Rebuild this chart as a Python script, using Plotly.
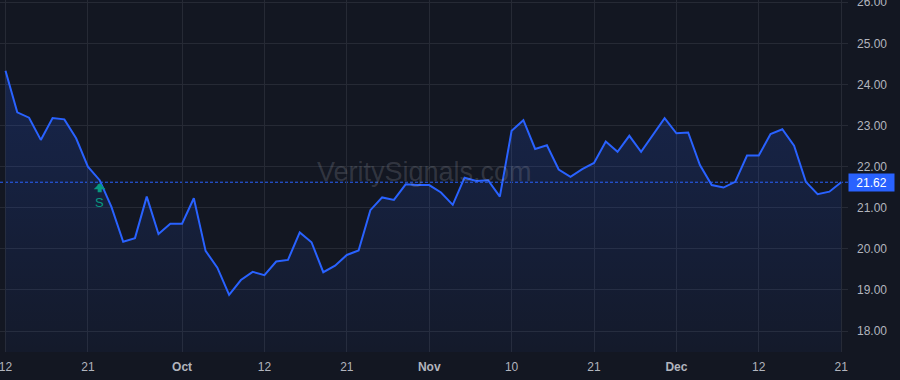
import pandas as pd
import plotly.graph_objects as go

# Trading days Sep 12 - Dec 21, 2022 (Thanksgiving closed)
dates = [d.strftime("%Y-%m-%d") for d in pd.bdate_range("2022-09-12", "2022-12-21")
         if d.strftime("%Y-%m-%d") != "2022-11-24"]

prices = [24.33, 23.32, 23.19, 22.65, 23.18, 23.15, 22.69, 22.00, 21.67, 21.02,
          20.17, 20.26, 21.27, 20.36, 20.61, 20.61, 21.23, 19.95, 19.54, 18.88,
          19.24, 19.44, 19.36, 19.69, 19.73, 20.40, 20.16, 19.43, 19.59, 19.85,
          19.96, 20.94, 21.25, 21.19, 21.57, 21.55, 21.55, 21.37, 21.07, 21.73,
          21.65, 21.67, 21.27, 22.87, 23.13, 22.43, 22.52, 21.93, 21.75, 21.94,
          22.09, 22.61, 22.36, 22.75, 22.36, 22.77, 23.18, 22.81, 22.83, 22.04,
          21.55, 21.49, 21.63, 22.27, 22.27, 22.79, 22.91, 22.51, 21.63, 21.33,
          21.39, 21.62]

tick_dates = ["2022-09-12", "2022-09-21", "2022-10-03", "2022-10-12", "2022-10-21",
              "2022-11-01", "2022-11-10", "2022-11-21", "2022-12-01", "2022-12-12",
              "2022-12-21"]
tick_labels = ["12", "21", "<b>Oct</b>", "12", "21", "<b>Nov</b>", "10", "21",
               "<b>Dec</b>", "12", "21"]

signal_date = "2022-09-22"
signal_label = "S"
last_price = prices[-1]
watermark = "VeritySignals.com"

BG = "#131722"
GRID = "#262a35"
TXT = "#B2B5BE"
BLUE = "#2962FF"
TEAL = "#089981"

fig = go.Figure()
fig.add_trace(go.Scatter(
    x=dates, y=prices, mode="lines",
    line=dict(color=BLUE, width=2),
    fill="tozeroy",
    fillgradient=dict(type="vertical", start=17.49, stop=max(prices),
                      colorscale=[[0, "rgba(41,98,255,0.04)"], [1, "rgba(41,98,255,0.19)"]]),
    hoverinfo="skip", showlegend=False,
))

fig.add_shape(type="line", xref="paper", x0=0, x1=1, yref="y", y0=last_price, y1=last_price,
              line=dict(color=BLUE, width=1, dash="3px,2px"), layer="below")

fig.add_annotation(xref="paper", x=1, xanchor="left", yref="y", y=last_price,
                   text=f"{last_price:.2f}", showarrow=False, width=45, height=17,
                   bgcolor=BLUE, borderpad=0, align="center",
                   font=dict(color="white", size=12, family="Liberation Sans"))

fig.add_annotation(xref="paper", yref="paper", x=0.5, y=0.511, text=watermark,
                   showarrow=False, font=dict(size=27, color="rgba(178,181,190,0.2)",
                                              family="Liberation Sans"))

sig_idx = dates.index(signal_date)
fig.add_annotation(x=signal_date, y=prices[sig_idx], text=signal_label,
                   showarrow=True, ax=0, ay=22, standoff=3, startstandoff=1,
                   arrowhead=1, arrowwidth=4, arrowsize=0.5, arrowcolor=TEAL,
                   font=dict(color=TEAL, size=13, family="Liberation Sans"))

fig.update_layout(
    width=900, height=380,
    margin=dict(l=0, r=52, t=0, b=28, autoexpand=False),
    paper_bgcolor=BG, plot_bgcolor=BG,
    font=dict(family="Liberation Sans", size=12, color=TXT),
    hovermode=False,
    xaxis=dict(type="category", categoryorder="array", categoryarray=dates,
               range=[-0.467, 71.58], tickvals=tick_dates, ticktext=tick_labels,
               showgrid=True, gridcolor=GRID, gridwidth=1, zeroline=False,
               showline=False, ticks="", ticklabelstandoff=6, automargin=False,
               ticklabeloverflow="allow",
               tickfont=dict(size=12, color=TXT)),
    yaxis=dict(side="right", range=[17.489, 26.054], dtick=1, tick0=18,
               tickformat=".2f", showgrid=True, gridcolor=GRID, gridwidth=1,
               zeroline=False, showline=False, ticks="", ticklabelstandoff=8,
               ticklabeloverflow="allow", automargin=False,
               tickfont=dict(size=12, color=TXT)),
)

fig.write_html("out.html")
